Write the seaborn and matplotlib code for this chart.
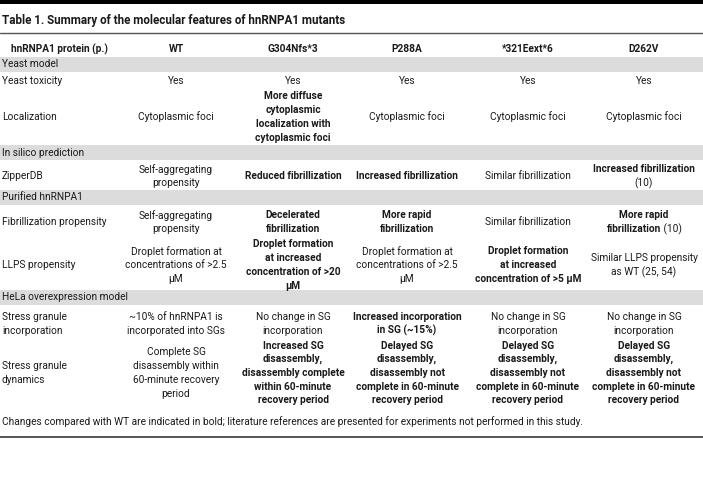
import matplotlib
matplotlib.use("Agg")
import matplotlib.pyplot as plt
import seaborn as sns

# table content
title = "Table 1. Summary of the molecular features of hnRNPA1 mutants"
columns = ["hnRNPA1 protein (p.)", "WT", "G304Nfs*3", "P288A", "*321Eext*6", "D262V"]
sections = ["Yeast model", "In silico prediction", "Purified hnRNPA1", "HeLa overexpression model"]
row_labels = ["Yeast toxicity", "Localization", "ZipperDB", "Fibrillization propensity",
              "LLPS propensity", "Stress granule\nincorporation", "Stress granule\ndynamics"]

# ** marks bold text
delayed = "**Delayed SG\ndisassembly,\ndisassembly not\ncomplete in 60-minute\nrecovery period**"
wt = ["Yes", "Cytoplasmic foci", "Self-aggregating\npropensity", "Self-aggregating\npropensity",
      "Droplet formation at\nconcentrations of >2.5\nμM", "~10% of hnRNPA1 is\nincorporated into SGs",
      "Complete SG\ndisassembly within\n60-minute recovery\nperiod"]
g304 = ["Yes", "**More diffuse\ncytoplasmic\nlocalization with\ncytoplasmic foci**",
        "**Reduced fibrillization**", "**Decelerated\nfibrillization**",
        "**Droplet formation\nat increased\nconcentration of >20\nμM**", "No change in SG\nincorporation",
        "**Increased SG\ndisassembly,\ndisassembly complete\nwithin 60-minute\nrecovery period**"]
p288 = ["Yes", "Cytoplasmic foci", "**Increased fibrillization**", "**More rapid\nfibrillization**",
        "Droplet formation at\nconcentrations of >2.5\nμM", "**Increased incorporation\nin SG (~15%)**", delayed]
e321 = ["Yes", "Cytoplasmic foci", "Similar fibrillization", "Similar fibrillization",
        "**Droplet formation\nat increased\nconcentration of >5 μM**", "No change in SG\nincorporation", delayed]
d262 = ["Yes", "Cytoplasmic foci", "**Increased fibrillization**\n(10)", "**More rapid\nfibrillization** (10)",
        "Similar LLPS propensity\nas WT (25, 54)", "No change in SG\nincorporation", delayed]
footnote = ("Changes compared with WT are indicated in bold; literature references are "
            "presented for experiments not performed in this study.")

# layout (pixel coordinates)
col_x = [59, 176, 293, 407, 528, 644]
row_y = [81, 117, 176, 222, 265, 324, 373]
band_y = [64, 152.5, 197, 297]
line_h = 13.7
fs = 7.3
ink = "#1a1a1a"

sns.set_theme(style="white")
plt.rcParams["font.family"] = ["Roboto", "DejaVu Sans"]

fig = plt.figure(figsize=(7.03, 4.91), dpi=100)
ax = fig.add_axes([0, 0, 1, 1])
ax.set_xlim(0, 703)
ax.set_ylim(491, 0)
ax.axis("off")
renderer = fig.canvas.get_renderer()


def parse(cell):
    lines, bold = [], False
    for line in cell.split("\n"):
        segs = []
        for i, part in enumerate(line.split("**")):
            if i > 0:
                bold = not bold
            if part:
                segs.append((part, bold))
        lines.append(segs)
    return lines


def draw_cell(cell, x, y, ha="center"):
    lines = parse(cell)
    top = y - (len(lines) - 1) * line_h / 2
    for k, segs in enumerate(lines):
        ly = top + k * line_h
        if len(segs) == 1 or ha == "left":
            txt, b = segs[0]
            ax.text(x, ly, txt, ha=ha, va="center", fontsize=fs, color=ink,
                    fontweight="bold" if b else "normal")
            continue
        # mixed bold / regular line: measure the pieces, then centre them together
        arts = [ax.text(0, ly, t, ha="left", va="center", fontsize=fs, color=ink,
                        fontweight="bold" if b else "normal") for t, b in segs]
        widths = [a.get_window_extent(renderer).width for a in arts]
        cur = x - sum(widths) / 2
        for a, w in zip(arts, widths):
            a.set_x(cur)
            cur += w


# rules and bands
ax.axhspan(0, 4, color="black", lw=0)
ax.axhline(33, color="#555555", lw=1.0)
ax.axhline(437, color="#555555", lw=1.4)
for by in band_y:
    ax.axhspan(by - 7.5, by + 7.5, color="#dcdcdc", lw=0)

ax.text(2, 20, title, ha="left", va="center", fontsize=8.4, fontweight="bold", color=ink)
for cx, name in zip(col_x, columns):
    ax.text(cx, 49, name, ha="center", va="center", fontsize=fs, fontweight="bold", color=ink)

for by, name in zip(band_y, sections):
    ax.text(2, by, name, ha="left", va="center", fontsize=fs, color=ink)

for i, label in enumerate(row_labels):
    draw_cell(label, 2, row_y[i], ha="left")
    for cx, col in zip(col_x[1:], [wt, g304, p288, e321, d262]):
        draw_cell(col[i], cx, row_y[i])

ax.text(2, 422, footnote, ha="left", va="center", fontsize=fs, color=ink)

fig.savefig("out.png", dpi=100)
